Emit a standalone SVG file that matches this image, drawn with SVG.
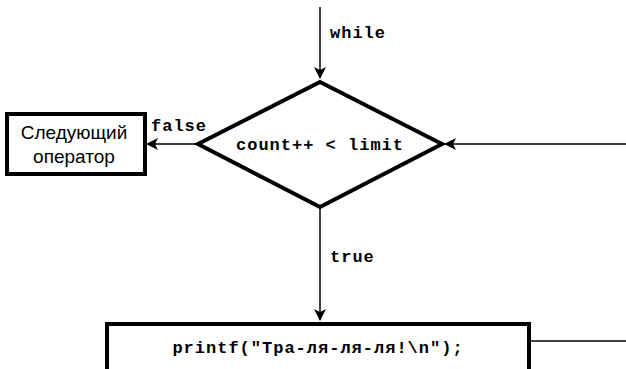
<svg xmlns="http://www.w3.org/2000/svg" width="626" height="369" viewBox="0 0 626 369">
<style>
.mono{font-family:"Liberation Mono","DejaVu Sans Mono",monospace;font-weight:bold;font-size:17px;letter-spacing:1px;fill:#000}
.sans{font-family:"Liberation Sans",Arial,sans-serif;font-size:19px;fill:#000}
.shape{fill:#fff;stroke:#000;stroke-width:4}
.conn{stroke:#000;stroke-width:1.5;fill:none}
</style>
<defs>
<marker id="ah" markerWidth="12" markerHeight="12" viewBox="0 0 12 12" refX="11" refY="6" orient="auto" markerUnits="userSpaceOnUse">
<path d="M0,0 L12,6 L0,12 L3,6 Z" fill="#000"/>
</marker>
</defs>
<rect width="626" height="369" fill="#fff"/>
<g id="connectors">
<line class="conn" x1="320" y1="7" x2="320" y2="78" marker-end="url(#ah)"/>
<line class="conn" x1="198" y1="144" x2="147" y2="144" marker-end="url(#ah)"/>
<line class="conn" x1="626" y1="144" x2="445" y2="144" marker-end="url(#ah)"/>
<line class="conn" x1="320" y1="209" x2="320" y2="320" marker-end="url(#ah)"/>
<line class="conn" x1="530" y1="341" x2="626" y2="341"/>
<text class="mono" x="330" y="38">while</text>
<text class="mono" x="151" y="131">false</text>
<text class="mono" x="330" y="262">true</text>
</g>
<g id="condition">
<polygon class="shape" points="320,82 442,144 320,207 198,144"/>
<text class="mono" x="320" y="150" text-anchor="middle">count++ &lt; limit</text>
</g>
<g id="next">
<rect class="shape" x="7" y="114" width="138" height="60"/>
<text class="sans" x="74" y="139" text-anchor="middle">Следующий</text>
<text class="sans" x="74" y="163" text-anchor="middle">оператор</text>
</g>
<g id="body">
<rect class="shape" x="107" y="324" width="422" height="60"/>
<text class="mono" x="318" y="353" text-anchor="middle">printf("Тра-ля-ля-ля!\n");</text>
</g>
</svg>
